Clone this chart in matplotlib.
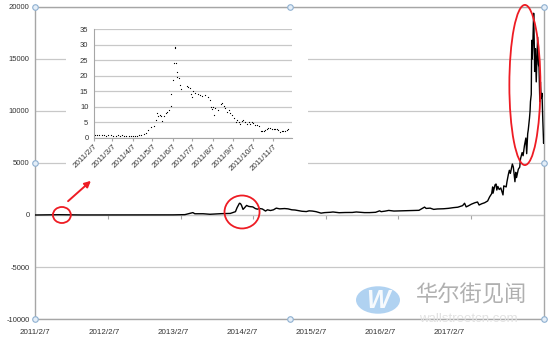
import matplotlib
matplotlib.use('Agg')
import matplotlib.pyplot as plt
import matplotlib.dates as mdates
import numpy as np
from matplotlib.patches import Ellipse, Rectangle, Circle, FancyArrowPatch

# ── main series: BTC price ──
main_dates = ['2011-02-07', '2011-06-08', '2011-10-01', '2012-01-01', '2012-06-01', '2012-09-01',
              '2013-01-01', '2013-03-01', '2013-04-10', '2013-04-20', '2013-06-01', '2013-07-05',
              '2013-09-01', '2013-10-15', '2013-11-10', '2013-11-18', '2013-11-30', '2013-12-05',
              '2013-12-10', '2013-12-18', '2013-12-24', '2014-01-05', '2014-01-15', '2014-01-25',
              '2014-02-05', '2014-02-18', '2014-02-28', '2014-03-10', '2014-03-25', '2014-04-10',
              '2014-04-20', '2014-05-05', '2014-05-20', '2014-06-03', '2014-06-20', '2014-07-15',
              '2014-08-01', '2014-08-20', '2014-09-05', '2014-09-25', '2014-10-10', '2014-11-01',
              '2014-11-15', '2014-12-01', '2014-12-20', '2015-01-14', '2015-02-01', '2015-03-01',
              '2015-03-15', '2015-04-15', '2015-05-15', '2015-06-20', '2015-07-10', '2015-08-20',
              '2015-09-15', '2015-10-15', '2015-11-04', '2015-11-12', '2015-12-01', '2015-12-20',
              '2016-01-15', '2016-02-15', '2016-03-15', '2016-04-15', '2016-05-20', '2016-06-17',
              '2016-06-25', '2016-07-15', '2016-08-02', '2016-08-20', '2016-09-20', '2016-10-15',
              '2016-11-10', '2016-12-01', '2016-12-25', '2017-01-04', '2017-01-12', '2017-01-25',
              '2017-02-07', '2017-02-25', '2017-03-10', '2017-03-18', '2017-03-31', '2017-04-15',
              '2017-04-30', '2017-05-10', '2017-05-20', '2017-05-25', '2017-05-27', '2017-06-06',
              '2017-06-11', '2017-06-15', '2017-06-20', '2017-06-27', '2017-07-05', '2017-07-16',
              '2017-07-20', '2017-08-01', '2017-08-05', '2017-08-12', '2017-08-17', '2017-08-22',
              '2017-09-01', '2017-09-06', '2017-09-14', '2017-09-18', '2017-09-22', '2017-10-01',
              '2017-10-08', '2017-10-12', '2017-10-20', '2017-10-25', '2017-11-01', '2017-11-08',
              '2017-11-12', '2017-11-17', '2017-11-20', '2017-11-26', '2017-11-29', '2017-12-01',
              '2017-12-05', '2017-12-07', '2017-12-08', '2017-12-10', '2017-12-13', '2017-12-17',
              '2017-12-20', '2017-12-22', '2017-12-26', '2017-12-30', '2018-01-03', '2018-01-06',
              '2018-01-10', '2018-01-13', '2018-01-17', '2018-01-20', '2018-01-24', '2018-01-28',
              '2018-02-01', '2018-02-05', '2018-02-07']
main_prices = [0.9, 29, 5, 5, 5.5, 10,
               13, 34, 230, 120, 120, 70,
               130, 150, 320, 700, 1130, 1100,
               950, 540, 660, 920, 830, 800,
               780, 620, 560, 630, 580, 380,
               500, 430, 500, 660, 590, 620,
               590, 500, 480, 410, 360, 330,
               400, 380, 320, 180, 230, 260,
               290, 220, 240, 245, 290, 230,
               230, 260, 400, 320, 370, 440,
               380, 400, 415, 430, 450, 760,
               630, 660, 540, 580, 600, 640,
               710, 750, 900, 1130, 780, 900,
               1040, 1180, 1250, 960, 1080, 1180,
               1350, 1750, 2050, 2700, 2100, 2900,
               2980, 2400, 2750, 2450, 2600, 1930,
               2800, 2700, 3200, 3900, 4300, 4000,
               4900, 4600, 3200, 4100, 3600, 4400,
               4600, 5400, 6000, 5700, 6700, 7400,
               5900, 7800, 8200, 9300, 10000, 10900,
               11600, 16000, 16800, 15000, 16500, 19400,
               16600, 13800, 16000, 12800, 15100, 17100,
               14500, 14200, 10900, 12800, 11200, 11700,
               9100, 6900, 7700]
main_xlabels = ['2011/2/7', '2012/2/7', '2013/2/7', '2014/2/7', '2015/2/7', '2016/2/7', '2017/2/7']

# ── inset: 2011 detail (days after 2011/2/7, price) ──
inset_days = [1, 4, 8, 12, 15, 19, 22, 26, 29, 33,
              36, 39, 42, 46, 49, 53, 56, 59, 63, 66,
              69, 72, 76, 79, 82, 87, 92, 94, 96, 98,
              100, 102, 104, 107, 110, 112, 115, 117, 118, 121,
              122, 123, 124, 125, 126, 127, 129, 131, 132, 142,
              144, 146, 148, 149, 151, 154, 158, 161, 165, 170,
              174, 177, 178, 180, 181, 183, 185, 189, 193, 195,
              198, 200, 203, 206, 208, 211, 213, 216, 218, 221,
              223, 226, 228, 231, 233, 236, 238, 241, 243, 246,
              248, 251, 254, 256, 259, 261, 264, 266, 269, 271,
              274, 276, 279, 281, 284, 286, 289, 291, 294, 296]
inset_prices = [0.9, 1.0, 0.9, 0.9, 0.9, 0.8, 0.9, 0.9, 0.8, 0.8,
                0.9, 0.8, 0.9, 0.8, 0.8, 0.7, 0.8, 0.7, 0.7, 0.8,
                1.0, 1.1, 1.3, 1.5, 2.7, 3.4, 3.7, 5.9, 8.0, 7.0,
                7.4, 7.0, 5.3, 7.0, 8.0, 8.5, 9.0, 10.3, 14.2, 18.7,
                24.0, 29.3, 28.8, 24.0, 21.3, 19.5, 19.2, 17.0, 15.7, 16.8,
                16.3, 16.0, 14.2, 13.1, 15.0, 14.4, 14.0, 13.8, 13.6, 13.9,
                13.3, 12.3, 10.1, 9.3, 10.1, 7.5, 9.6, 9.1, 10.9, 11.2,
                10.4, 9.6, 8.5, 8.9, 8.0, 7.5, 6.4, 5.0, 5.7, 5.0,
                4.6, 5.3, 5.9, 5.0, 4.6, 5.0, 4.6, 5.0, 4.8, 4.3,
                4.1, 3.9, 2.1, 2.3, 2.4, 2.7, 2.9, 3.2, 3.1, 2.9,
                3.0, 2.8, 2.9, 2.5, 2.0, 2.2, 2.1, 2.4, 2.6, 2.9]

GRAY  = '#a6a6a6'
GRID  = '#c8c8c8'
RED   = '#ee1c24'
TXT   = '#333333'

start = np.datetime64('2011-02-07')
end   = np.datetime64('2018-02-07')
x_main = np.array(main_dates, dtype='datetime64[D]')
x_ins  = start + np.array(inset_days, dtype='timedelta64[D]')

def fmt_date(v, _):
    d = mdates.num2date(v)
    return f"{d.year}/{d.month}/{d.day}"

plt.rcParams['font.family'] = ['Liberation Sans', 'DejaVu Sans']
plt.rcParams['axes.unicode_minus'] = False
fig = plt.figure(figsize=(5.5, 3.43), dpi=100)
fig.patch.set_facecolor('white')

# ── main chart ──
ax = fig.add_axes([35/550, 1-319/343, 509/550, 312/343])
ax.plot(x_main, main_prices, color='black', lw=1.0, zorder=3)
ax.set_xlim(start, end)
ax.set_ylim(-10000, 20000)
ax.set_yticks(np.arange(-10000, 20001, 5000))
ax.yaxis.grid(True, color=GRID, lw=0.9)
ax.set_axisbelow(True)
for s in ax.spines.values():
    s.set_color(GRAY); s.set_linewidth(1.0)
ax.tick_params(axis='y', length=0, pad=4, labelsize=5.5, labelcolor=TXT)

# labels sit at a slightly tighter step than the year ticks (as in the source chart)
lab_pos = [mdates.date2num(start) + k * 346.5 for k in range(len(main_xlabels))]
ax.set_xticks(lab_pos)
ax.set_xticklabels(main_xlabels)
ax.tick_params(axis='x', length=0, pad=7, labelsize=5.8, labelcolor=TXT)

# horizontal axis crossing at 0, with yearly tick marks
sec = ax.secondary_xaxis(1/3)
year_ticks = [mdates.date2num(np.datetime64(f'{y}-02-07')) for y in range(2012, 2018)]
sec.set_xticks(year_ticks)
sec.tick_params(axis='x', length=3, color=GRAY, labelbottom=False)
sec.spines['bottom'].set_color(GRAY)

# selection handles of the plot area
hx = [0, 0.5, 1, 0, 1, 0, 0.5, 1]
hy = [1, 1, 1, 0.5, 0.5, 0, 0, 0]
ax.plot(hx, hy, ls='none', marker='o', ms=4, mfc='#e4eef8', mec='#8fb0d0', mew=0.8,
        transform=ax.transAxes, clip_on=False, zorder=6)

# red highlights
for cx, cy, w, h in [('2011-06-22', 0, 90, 1540), ('2013-12-13', 290, 176, 3170),
                     ('2017-11-03', 12500, 156, 15400)]:
    ax.add_patch(Ellipse((mdates.date2num(np.datetime64(cx)), cy), w, h,
                         fill=False, ec=RED, lw=1.3, zorder=5, clip_on=False))

# ── inset ──
fig.add_artist(Rectangle((66/550, 1-178/343), 242/550, 163/343, transform=fig.transFigure,
                         fc='white', ec='none', zorder=1))
ins = fig.add_axes([94/550, 1-138/343, 198/550, 109/343])
ins.set_zorder(2)
ins.plot(x_ins, inset_prices, ls='none', marker='s', ms=0.8, mew=0, color='black')
ins.set_xlim(start, np.datetime64('2011-12-06'))
ins.set_ylim(0, 35)
ins.set_yticks(range(0, 36, 5))
ins.yaxis.grid(True, color=GRID, lw=0.9)
ins.set_axisbelow(True)
ins.xaxis.set_major_locator(mdates.MonthLocator(bymonthday=7))
ins.xaxis.set_major_formatter(plt.FuncFormatter(fmt_date))
for s in ['top', 'right']:
    ins.spines[s].set_visible(False)
for s in ['left', 'bottom']:
    ins.spines[s].set_color(GRAY)
ins.tick_params(axis='y', length=0, pad=4, labelsize=5.5, labelcolor=TXT)
ins.tick_params(axis='x', length=2.5, color=GRAY, labelsize=5.8, labelcolor=TXT, pad=1)
for t in ins.get_xticklabels():
    t.set_rotation(45); t.set_ha('right'); t.set_rotation_mode('anchor')

# arrow from circle to inset
fig.add_artist(FancyArrowPatch((66/550, 1-203/343), (93/550, 1-179/343), transform=fig.transFigure,
                               arrowstyle='-|>', mutation_scale=9, color=RED, lw=1.4, zorder=7))

# ── watermark ──
fig.add_artist(Circle((378/550, 1-300/343), 22/550, transform=fig.transFigure,
                      fc='#8fbfec', ec='none', alpha=0.7, zorder=8))
fig.text(378/550, 1-301/343, 'W', color='white', fontsize=18, fontweight='bold', style='italic',
         ha='center', va='center', alpha=0.9, zorder=9)
fig.text(471/550, 1-295/343, '华尔街见闻', family=['Noto Sans CJK SC', 'DejaVu Sans'],
         fontsize=16, color='#a8a8a8', ha='center', va='center', alpha=0.9, zorder=9)
fig.text(468/550, 1-319/343, 'wallstreetcn.com', fontsize=9.5, color='#e2e2e2',
         ha='center', va='center', zorder=9)

fig.savefig('out.png', dpi=100)
